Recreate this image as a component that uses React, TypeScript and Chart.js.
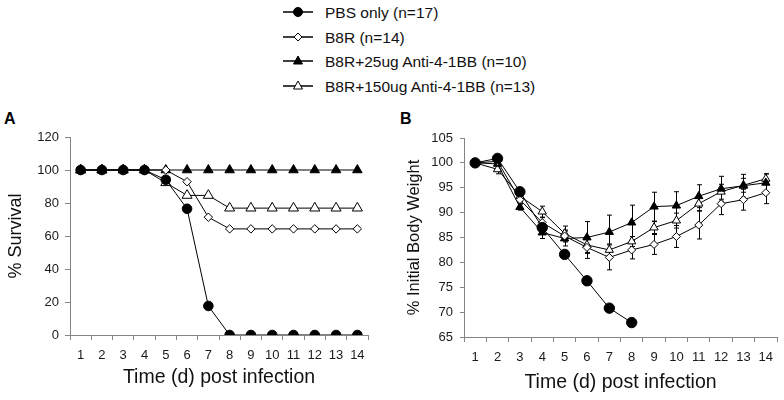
import React, { useEffect, useRef } from 'react';
import { Chart, registerables } from 'chart.js';

Chart.register(...registerables);

// ---------- data ----------
const days = ['1', '2', '3', '4', '5', '6', '7', '8', '9', '10', '11', '12', '13', '14'];

const seriesNames = [
  'PBS only (n=17)',
  'B8R (n=14)',
  'B8R+25ug Anti-4-1BB (n=10)',
  'B8R+150ug Anti-4-1BB (n=13)',
];

// Panel A: % survival
const survivalPBS = [100, 100, 100, 100, 94.1, 76.5, 17.6, 0, 0, 0, 0, 0, 0, 0];
const survivalB8R = [100, 100, 100, 100, 100, 92.9, 71.4, 64.3, 64.3, 64.3, 64.3, 64.3, 64.3, 64.3];
const survival25 = [100, 100, 100, 100, 100, 100, 100, 100, 100, 100, 100, 100, 100, 100];
const survival150 = [100, 100, 100, 100, 92.3, 84.6, 84.6, 76.9, 76.9, 76.9, 76.9, 76.9, 76.9, 76.9];

// Panel B: % initial body weight (mean) and error (+/-)
const weightPBS = [100, 100.9, 94.2, 87, 81.6, 76.3, 70.8, 67.9, null, null, null, null, null, null];
const weightPBSErr = [0.3, 0.5, 0.6, 1, 0.8, 0.8, 0.6, 0.5, 0, 0, 0, 0, 0, 0];
const weightB8R = [100, 100.3, 92.6, 88, 85.3, 83, 81, 82.5, 83.6, 85.2, 87.5, 91.8, 92.6, 94];
const weightB8RErr = [0.3, 0.5, 0.8, 1, 1.2, 2.2, 2.5, 1.8, 2, 2.2, 2.8, 2.2, 2.1, 2.2];
const weight25 = [100, 99.8, 91.1, 86, 84.8, 85, 86.1, 88, 91.2, 91.4, 93.3, 94.8, 95.4, 96];
const weight25Err = [0.3, 0.5, 0.6, 1.2, 1.5, 3.2, 3.4, 3.5, 2.9, 2.8, 2.3, 2.5, 2.3, 1.8];
const weight150 = [100, 98.7, 93.3, 90.2, 85.8, 83.5, 82.5, 84.2, 87, 88.4, 91.8, 94.2, 95.5, 96.8];
const weight150Err = [0.3, 0.9, 1, 1.1, 1.5, 1.5, 1.2, 1, 1.2, 1.5, 1.4, 1.5, 1.4, 1];

// ---------- styles ----------
const FONT = "'Liberation Sans', Arial, Helvetica, sans-serif";
const AXIS = '#858585';
const TXT = '#1a1a1a';

Chart.defaults.font.family = FONT;

const markerStyles = [
  { pointStyle: 'circle', fill: '#000' },
  { pointStyle: 'rectRot', fill: '#fff' },
  { pointStyle: 'triangle', fill: '#000' },
  { pointStyle: 'triangle', fill: '#fff' },
];

const errorBarPlugin = {
  id: 'errorBars',
  beforeDatasetsDraw(chart: any) {
    const ctx = chart.ctx;
    const yScale = chart.scales.y;
    ctx.save();
    ctx.strokeStyle = '#000';
    ctx.lineWidth = 1;
    chart.data.datasets.forEach((ds: any, i: number) => {
      if (!ds.errors) return;
      const meta = chart.getDatasetMeta(i);
      meta.data.forEach((el: any, j: number) => {
        const v = ds.data[j];
        const e = ds.errors[j];
        if (v == null || !e) return;
        const x = Math.round(el.x) + 0.5;
        const yt = yScale.getPixelForValue(v + e);
        const yb = yScale.getPixelForValue(v - e);
        ctx.beginPath();
        ctx.moveTo(x, yt);
        ctx.lineTo(x, yb);
        ctx.moveTo(x - 2.5, yt);
        ctx.lineTo(x + 2.5, yt);
        ctx.moveTo(x - 2.5, yb);
        ctx.lineTo(x + 2.5, yb);
        ctx.stroke();
      });
    });
    ctx.restore();
  },
};

function makeDatasets(values: (number | null)[][], radii: number[], errors?: number[][]) {
  return values.map((vals, i) => ({
    label: seriesNames[i],
    data: vals,
    errors: errors ? errors[i] : undefined,
    borderColor: '#000',
    borderWidth: 1,
    pointStyle: markerStyles[i].pointStyle,
    pointRadius: radii[i],
    pointHoverRadius: radii[i],
    pointBackgroundColor: markerStyles[i].fill,
    pointBorderColor: '#000',
    pointBorderWidth: 1,
    fill: false,
    tension: 0,
    spanGaps: false,
  }));
}

function makeOptions(p: {
  yMin: number; yMax: number; step: number; yTitle: string; yTitleSize: number; yTitlePad: number;
  yWidth: number; xHeight: number; xTitlePad: number; padTop: number; padRight: number;
  yTickLen: number; yTickPad: number;
}) {
  return {
    responsive: false,
    animation: false,
    events: [],
    layout: { padding: { top: p.padTop, right: p.padRight, left: 0, bottom: 0 } },
    plugins: { legend: { display: false }, tooltip: { enabled: false } },
    scales: {
      x: {
        type: 'category',
        offset: true,
        grid: { display: true, offset: true, drawOnChartArea: false, drawTicks: true, tickLength: 5, color: AXIS, lineWidth: 1 },
        border: { display: true, color: AXIS, width: 1 },
        ticks: { color: TXT, font: { size: 13, family: FONT }, padding: 8, maxRotation: 0, autoSkip: false },
        title: {
          display: true, text: 'Time (d) post infection', color: '#111',
          font: { size: 19.5, family: FONT }, padding: { top: 0, bottom: p.xTitlePad },
        },
        afterFit: (s: any) => { s.height = p.xHeight; },
      },
      y: {
        min: p.yMin,
        max: p.yMax,
        grid: { display: true, drawOnChartArea: false, drawTicks: true, tickLength: p.yTickLen, color: AXIS, lineWidth: 1 },
        border: { display: true, color: AXIS, width: 1 },
        ticks: { stepSize: p.step, color: TXT, font: { size: 13, family: FONT }, padding: p.yTickPad },
        title: {
          display: true, text: p.yTitle, color: '#111',
          font: { size: p.yTitleSize, family: FONT }, padding: { top: p.yTitlePad, bottom: 0 },
        },
        afterFit: (s: any) => { s.width = p.yWidth; },
      },
    },
  };
}

function LegendMarker({ idx }: { idx: number }) {
  const cx = 15, cy = 7;
  let marker: any = null;
  if (idx === 0) marker = <circle cx={cx} cy={cy} r={4.5} fill="#000" stroke="#000" strokeWidth={1} />;
  if (idx === 1) marker = <polygon points={`${cx - 4},${cy} ${cx},${cy - 4} ${cx + 4},${cy} ${cx},${cy + 4}`} fill="#fff" stroke="#000" strokeWidth={1} />;
  if (idx === 2) marker = <polygon points={`${cx},${cy - 5} ${cx + 4.5},${cy + 3} ${cx - 4.5},${cy + 3}`} fill="#000" stroke="#000" strokeWidth={1} />;
  if (idx === 3) marker = <polygon points={`${cx},${cy - 5} ${cx + 4.5},${cy + 3} ${cx - 4.5},${cy + 3}`} fill="#fff" stroke="#000" strokeWidth={1} />;
  return (
    <svg width={30} height={14} style={{ display: 'block' }}>
      <line x1={0} y1={cy} x2={30} y2={cy} stroke="#000" strokeWidth={1.5} />
      {marker}
    </svg>
  );
}

const legendRowY = [12, 37, 61, 86];

export default function App() {
  const refA = useRef<HTMLCanvasElement>(null);
  const refB = useRef<HTMLCanvasElement>(null);

  useEffect(() => {
    const chartA = new Chart(refA.current as HTMLCanvasElement, {
      type: 'line',
      data: {
        labels: days,
        datasets: makeDatasets([survivalPBS, survivalB8R, survival25, survival150], [4.8, 4.2, 5.5, 5.8]) as any,
      },
      options: makeOptions({
        yMin: 0, yMax: 120, step: 20, yTitle: '% Survival', yTitleSize: 18, yTitlePad: 5,
        yWidth: 70, xHeight: 65, xTitlePad: 10.3, padTop: 37, padRight: 22, yTickLen: 5, yTickPad: 6,
      }) as any,
      plugins: [errorBarPlugin],
    });
    const chartB = new Chart(refB.current as HTMLCanvasElement, {
      type: 'line',
      data: {
        labels: days,
        datasets: makeDatasets(
          [weightPBS, weightB8R, weight25, weight150],
          [5.2, 4, 4.8, 4.8],
          [weightPBSErr, weightB8RErr, weight25Err, weight150Err],
        ) as any,
      },
      options: makeOptions({
        yMin: 65, yMax: 105, step: 5, yTitle: '% Initial Body Weight', yTitleSize: 16.5, yTitlePad: 15,
        yWidth: 74, xHeight: 63, xTitlePad: 5.3, padTop: 38, padRight: 7, yTickLen: 4, yTickPad: 7,
      }) as any,
      plugins: [errorBarPlugin],
    });
    return () => {
      chartA.destroy();
      chartB.destroy();
    };
  }, []);

  return (
    <div style={{ position: 'absolute', left: 0, top: 0, width: 784, height: 400, background: '#fff', overflow: 'hidden', fontFamily: FONT }}>
      {seriesNames.map((name, i) => (
        <div key={name} style={{ position: 'absolute', left: 283, top: legendRowY[i] - 10, height: 20, display: 'flex', alignItems: 'center', whiteSpace: 'nowrap' }}>
          <LegendMarker idx={i} />
          <span style={{ marginLeft: 12, fontSize: 15.5, lineHeight: '15px', color: '#111' }}>{name}</span>
        </div>
      ))}
      <div style={{ position: 'absolute', left: 4, top: 111, fontSize: 16, lineHeight: '16px', fontWeight: 'bold', color: '#000' }}>A</div>
      <div style={{ position: 'absolute', left: 400, top: 111, fontSize: 16, lineHeight: '16px', fontWeight: 'bold', color: '#000' }}>B</div>
      <canvas ref={refA} width={390} height={300} style={{ position: 'absolute', left: 0, top: 100, width: 390, height: 300 }} />
      <canvas ref={refB} width={394} height={300} style={{ position: 'absolute', left: 390, top: 100, width: 394, height: 300 }} />
    </div>
  );
}
